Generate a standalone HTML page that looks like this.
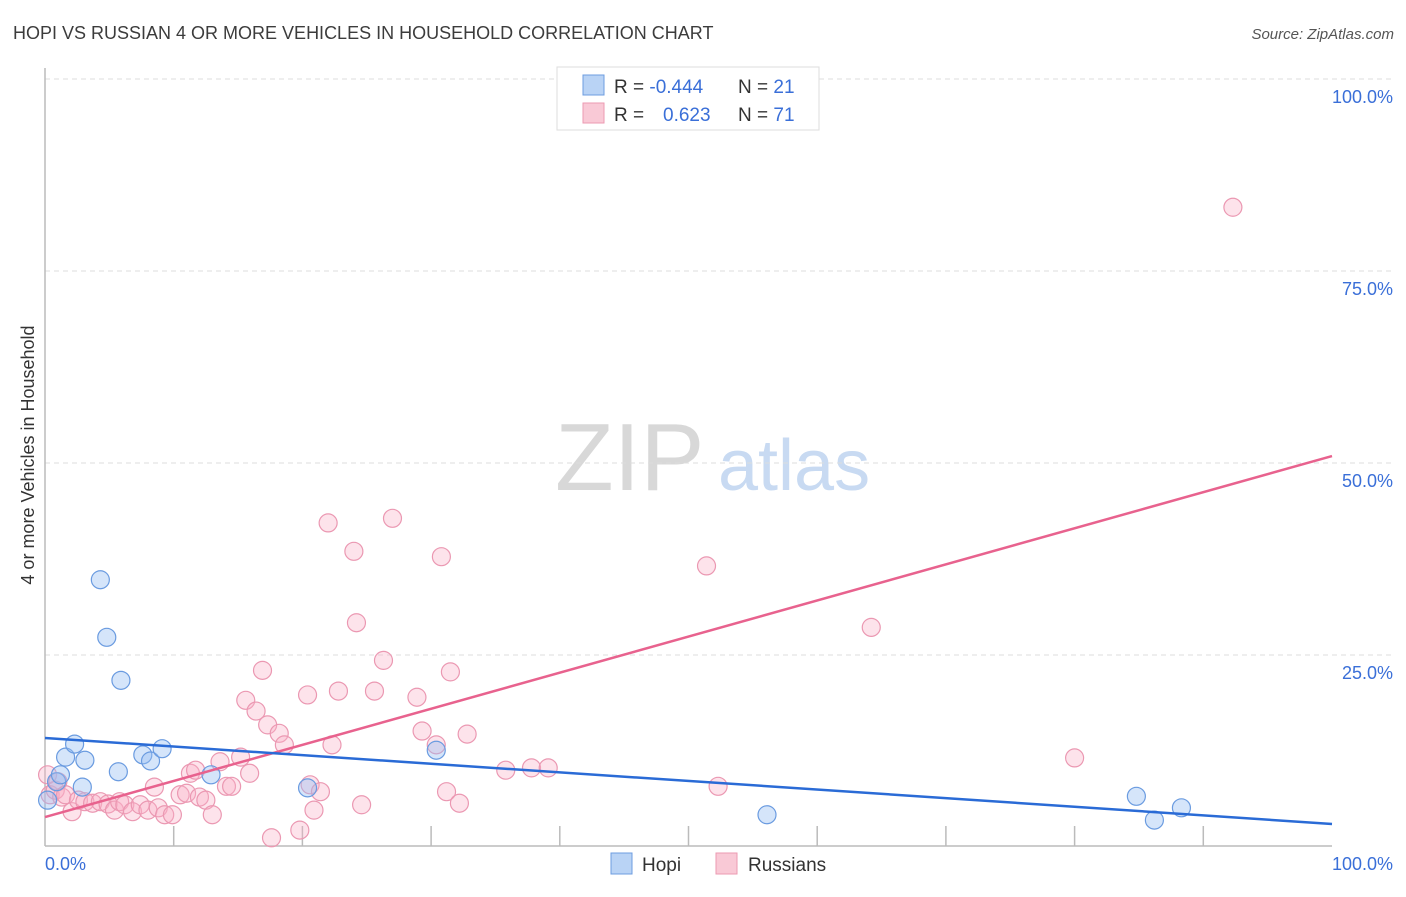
<!DOCTYPE html>
<html><head><meta charset="utf-8"><style>
body{margin:0;background:#fff;font-family:"Liberation Sans",sans-serif;}
svg text{font-family:"Liberation Sans",sans-serif;}
</style></head><body>
<svg id="chart" width="1406" height="892" xmlns="http://www.w3.org/2000/svg">
<text x="13" y="39" font-size="18" fill="#3c3c3c">HOPI VS RUSSIAN 4 OR MORE VEHICLES IN HOUSEHOLD CORRELATION CHART</text>
<text x="1394" y="39" font-size="15" fill="#555" text-anchor="end" font-style="italic">Source: ZipAtlas.com</text>
<g>
<text x="555" y="490" font-size="96" fill="#d8d8d8" font-family="Liberation Serif, serif">ZIP</text>
<text x="718" y="490" font-size="72" fill="#c8daf2">atlas</text>
</g>
<g id="grid"></g>
<g id="axes"></g>
<g id="marks"></g>
<text transform="translate(34,455) rotate(-90)" font-size="18" fill="#333" text-anchor="middle">4 or more Vehicles in Household</text>
<g>
<rect x="557" y="67" width="262" height="63" fill="#fff" stroke="#ddd"/>
<rect x="583" y="75" width="21" height="20" fill="#b9d3f5" stroke="#6d9de0"/>
<rect x="583" y="103" width="21" height="20" fill="#f9c9d6" stroke="#ec9ab2"/>
<text x="614" y="93" font-size="19" fill="#333">R = <tspan fill="#3a6fd8">-0.444</tspan></text>
<text x="738" y="93" font-size="19" fill="#333">N = <tspan fill="#3a6fd8">21</tspan></text>
<text x="614" y="121" font-size="19" fill="#333">R = </text>
<text x="663" y="121" font-size="19" fill="#3a6fd8">0.623</text>
<text x="738" y="121" font-size="19" fill="#333">N = <tspan fill="#3a6fd8">71</tspan></text>
</g>
<g>
<rect x="611" y="853" width="21" height="21" fill="#b9d3f5" stroke="#6d9de0"/>
<text x="642" y="871" font-size="19" fill="#333">Hopi</text>
<rect x="716" y="853" width="21" height="21" fill="#f9c9d6" stroke="#ec9ab2"/>
<text x="748" y="871" font-size="19" fill="#333">Russians</text>
</g>
</svg>
<script>
const hopiX=[0.2,0.9,1.2,1.6,2.3,2.9,3.1,4.3,4.8,5.7,5.9,7.6,8.2,9.1,12.9,20.4,30.4,56.1,84.8,86.2,88.3];
const hopiY=[6.1,8.5,9.4,11.7,13.4,7.8,11.3,34.8,27.3,9.8,21.7,12.0,11.2,12.8,9.4,7.7,12.6,4.2,6.6,3.5,5.1];
const rusPx=[48,50,55,58,62,66,72,78,85,92,100,108,115,120,125,132,140,148,155,158,165,172,180,186,190,196,200,206,212,220,226,232,240,250,246,256,263,268,279,284,307,300,310,314,321,328,332,338,354,357,362,375,384,393,417,422,436,442,446,450,459,467,506,532,548,706,718,871,1074,1233,272];
const rusPy=[775,795,790,782,797,795,812,800,802,803,802,804,810,802,805,812,805,810,787,808,815,815,795,793,773,770,797,800,815,762,786,786,757,773,700,711,670,725,733,745,695,830,785,810,792,523,745,691,551,623,805,691,660,518,697,731,745,557,792,672,803,734,770,768,768,566,786,627,758,207,838];
// Russians values in percent (derived from reading the picture)
const rusX=rusPx.map(p=>+((p-45)/12.87).toFixed(1));
const rusY=rusPy.map(p=>+((847-p)/7.68).toFixed(1));
const trendHopi=[14.2,3.0];   // y at x=0, y at x=100
const trendRus=[3.9,50.9];
const yTicks=[25,50,75,100];
const yTickLabels=["25.0%","50.0%","75.0%","100.0%"];
const xTicks=[10,20,30,40,50,60,70,80,90];

const NS="http://www.w3.org/2000/svg";
const X0=45,X1=1332,Y0=847,Y1=79;
const sx=v=>X0+(X1-X0)*v/100, sy=v=>Y0-(Y0-Y1)*v/100;
function mk(tag,attrs,parent){const e=document.createElementNS(NS,tag);for(const k in attrs)e.setAttribute(k,attrs[k]);document.getElementById(parent).appendChild(e);return e;}
yTicks.forEach((t,i)=>{
  const l=mk('line',{x1:X0,x2:1394,y1:sy(t),y2:sy(t),stroke:'#ddd','stroke-dasharray':'5,4'},'grid');
  
  
  const tx=mk('text',{x:1393,y:sy(t)+24,'font-size':18,fill:'#3a6fd8','text-anchor':'end'},'grid');
  tx.textContent=yTickLabels[i];
  
  
});
const ax=mk('line',{x1:X0,x2:X0,y1:68,y2:846,stroke:'#bbb','stroke-width':1.5},'axes');


const bx=mk('line',{x1:X0,x2:X1,y1:846,y2:846,stroke:'#bbb','stroke-width':1.5},'axes');


xTicks.forEach(t=>{const l=mk('line',{x1:sx(t),x2:sx(t),y1:826,y2:846,stroke:'#bbb','stroke-width':1.5},'axes');
  
  });
const xl=mk('text',{x:45,y:870,'font-size':18,fill:'#3a6fd8'},'axes');xl.textContent='0.0%';


const xr=mk('text',{x:1393,y:870,'font-size':18,fill:'#3a6fd8','text-anchor':'end'},'axes');xr.textContent='100.0%';


rusX.forEach((v,i)=>{const c=mk('circle',{cx:sx(v),cy:sy(rusY[i]),r:9,fill:'rgba(248,175,198,0.35)',stroke:'#eb98b2','stroke-width':1.2},'marks');
  
  });
hopiX.forEach((v,i)=>{const c=mk('circle',{cx:sx(v),cy:sy(hopiY[i]),r:9,fill:'rgba(150,190,242,0.4)',stroke:'#6a9be0','stroke-width':1.2},'marks');
  
  });
const tr=mk('line',{x1:sx(0),y1:sy(trendRus[0]),x2:sx(100),y2:sy(trendRus[1]),stroke:'#e8628e','stroke-width':2.5},'marks');


const th=mk('line',{x1:sx(0),y1:sy(trendHopi[0]),x2:sx(100),y2:sy(trendHopi[1]),stroke:'#2a6bd6','stroke-width':2.5},'marks');


</script>
</body></html>
